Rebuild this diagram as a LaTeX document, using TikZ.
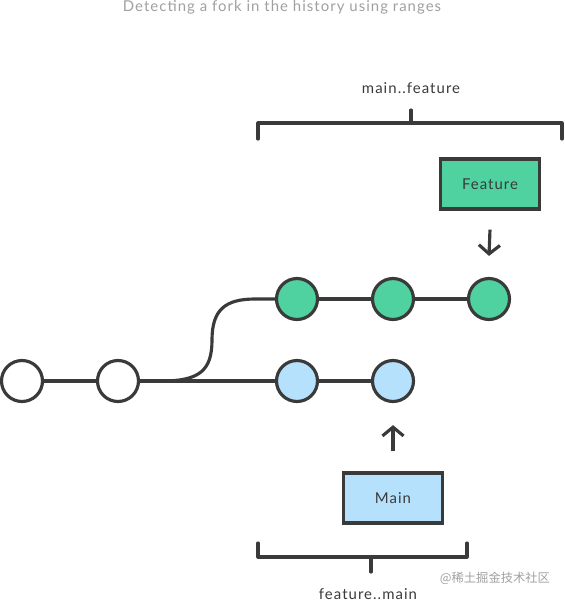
\documentclass[tikz,border=0pt]{standalone}
\usepackage{fontspec}
\setmainfont{Lato}
\newfontfamily\spaced[LetterSpace=7]{Lato}
\newfontfamily\cjk{Noto Sans CJK SC}
\usetikzlibrary{arrows.meta,positioning,calc}
\definecolor{inkgray}{HTML}{3A3A3A}
\definecolor{featgreen}{HTML}{4FD1A0}
\definecolor{mainblue}{HTML}{B5E1FD}
\definecolor{titlegray}{HTML}{A0A0A0}

\begin{document}
\begin{tikzpicture}[x=0.02cm, y=-0.02cm,
    every node/.style={font=\spaced\fontsize{8.5}{10}\selectfont, text=inkgray},
    commit/.style={circle, draw=inkgray, line width=1.8pt, minimum size=0.82cm, inner sep=0pt},
    refbox/.style={draw=inkgray, line width=1.8pt, minimum width=1.98cm, minimum height=1.0cm, inner sep=0pt},
    edge/.style={draw=inkgray, line width=1.8pt},
    pointer/.style={draw=inkgray, line width=1.8pt, -{Straight Barb[length=5pt, width=12pt, line width=1.8pt]}}]
  \useasboundingbox (0,0) rectangle (565,600);
  % title
  \node[text=titlegray] (title) at (282,7) {Detecting a fork in the history using ranges};
  % commits
  \node[commit, fill=white] (c1) at (22,381) {};
  \node[commit, fill=white] (c2) at (118,381) {};
  \node[commit, fill=mainblue] (m1) at (297,381) {};
  \node[commit, fill=mainblue] (m2) at (393,381) {};
  \node[commit, fill=featgreen] (f1) at (297,299) {};
  \node[commit, fill=featgreen] (f2) at (393,299) {};
  \node[commit, fill=featgreen] (f3) at (489,299) {};
  \draw[edge] (c1) -- (c2);
  \draw[edge] (c2) -- (m1);
  \draw[edge] (m1) -- (m2);
  \draw[edge] (f1) -- (f2);
  \draw[edge] (f2) -- (f3);
  \draw[edge] (c2.east) -- (162,381) .. controls (200,381) and (212,370) .. (212,340)
    .. controls (212,310) and (225,299) .. (255,299) -- (f1.west);
  % branch labels
  \node[refbox, fill=featgreen] (feature) at (490,184) {Feature};
  \node[refbox, fill=mainblue] (main) at (393,498) {Main};
  \draw[pointer] ($(feature.south)+(0,19)$) -- ($(f3.north)+(0,-21)$);
  \draw[pointer] ($(main.north)+(0,-20)$) -- ($(m2.south)+(0,22)$);
  % ranges
  \coordinate (tl) at (258,139);
  \coordinate (tr) at (562,139);
  \draw[edge, line cap=round, line join=round] (tl) |- (411,123) -| (tr);
  \draw[edge, line cap=round] (411,123) -- (411,110);
  \node (topr) at (411,88) {main..feature};
  \coordinate (bl) at (258,543);
  \coordinate (br) at (467,543);
  \draw[edge, line cap=round, line join=round] (bl) |- (371,557) -| (br);
  \draw[edge, line cap=round] (371,557) -- (371,572);
  \node (botr) at (368,594) {feature..main};
  \node[text=titlegray, font=\cjk\scriptsize] (mark) at (495,578) {@稀土掘金技术社区};
\end{tikzpicture}
\end{document}
